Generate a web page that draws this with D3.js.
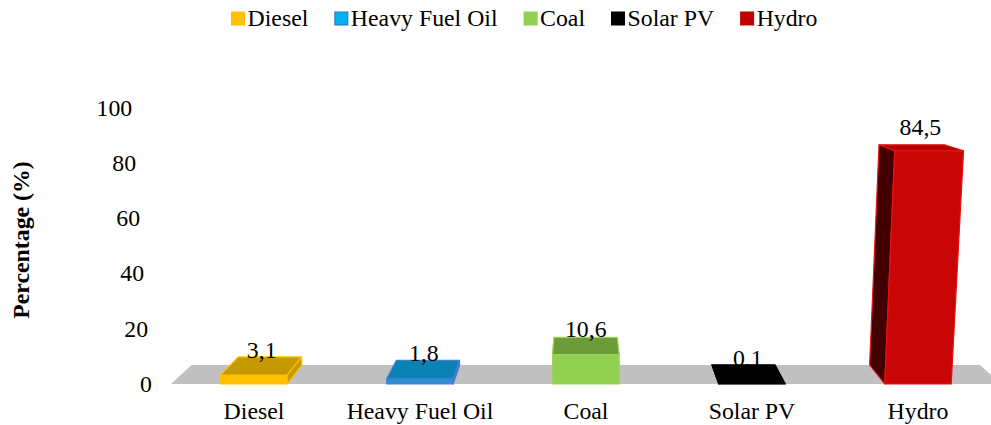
<!DOCTYPE html>
<html>
<head>
<meta charset="utf-8">
<script src="https://cdn.jsdelivr.net/npm/d3@7"></script>
<style>
  html, body { margin: 0; padding: 0; background: #fff; }
  svg text { font-family: "Liberation Serif", "Times New Roman", serif; }
</style>
</head>
<body>
<svg id="chart" width="991" height="425"></svg>
<script>
// Share of electricity generation by source
const categories = ["Diesel", "Heavy Fuel Oil", "Coal", "Solar PV", "Hydro"];
const values = [3.1, 1.8, 10.6, 0.1, 84.5];
const yTicks = [0, 20, 40, 60, 80, 100];

// face colours per source: front, top, side, outline, legend swatch
const frontColors = ["#FFC000", "#2F8CD8", "#92D050", "#000000", "#C80606"];
const topColors   = ["#C49A00", "#0A82B6", "#6E9B3A", "#000000", "#B40000"];
const sideColors  = ["#C49A00", "#0A7EB0", "#7FB545", "#000000", "#420000"];
const edgeColors  = ["#FFC000", "#4A7FD0", "#9BD35C", "#000000", "#E21414"];
const swatchColors = ["#FFC000", "#00B0F0", "#92D050", "#000000", "#C00000"];
const swatchEdges  = ["#FFC000", "#2E75B6", "#92D050", "#000000", "#C00000"];

const svg = d3.select("#chart");
const FONT = 23.8;
const SERIF = "'Liberation Serif', 'Times New Roman', serif";

const x = d3.scaleBand().domain(categories).range([171, 1001])
  .paddingInner(0.6).paddingOuter(0.3);
const y = d3.scaleLinear().domain([0, 100]).range([0, 276]);

const fmt = d3.formatLocale({ decimal: ",", thousands: ".", grouping: [3], currency: ["", ""] }).format(".1f");

// Perspective-ish projection: px = front-bottom screen x, v = value, z = depth (0 front .. 1 back)
const baseY = 384;
function project(px, v, z) {
  const h = y(v);
  const bx = px + (582 - px) * 0.05 * z;          // depth recedes toward the centre
  const sx = bx + (bx - 612) * 0.000156 * h;       // verticals fan out upward
  const sy = baseY - h - (19 - 0.0558 * h) * z;     // depth shrinks toward eye level
  return [sx, sy];
}
const poly = pts => pts.map(p => project(...p).join(",")).join(" ");

function label(sel) {
  return sel.append("text")
    .style("font-family", SERIF)
    .style("font-size", FONT + "px")
    .attr("fill", "#000");
}

// floor
const [fx0, fx1] = x.range();
svg.append("polygon")
  .attr("points", poly([[fx0, 0, 0], [fx1, 0, 0], [fx1, 0, 1], [fx0, 0, 1]]))
  .attr("fill", "#C0C0C0");

// bars
const bars = svg.append("g");
categories.forEach((c, i) => {
  const x0 = x(c), x1 = x(c) + x.bandwidth(), v = values[i];
  const g = bars.append("g")
    .attr("stroke", edgeColors[i]).attr("stroke-width", 1.2).attr("stroke-linejoin", "round");
  const mid = (x0 + x1) / 2;
  const backShiftsRight = project(mid, 0, 1)[0] > mid;
  const sx = backShiftsRight ? x1 : x0;
  g.append("polygon")
    .attr("points", poly([[sx, 0, 0], [sx, 0, 1], [sx, v, 1], [sx, v, 0]]))
    .attr("fill", sideColors[i]);
  g.append("polygon")
    .attr("points", poly([[x0, v, 0], [x1, v, 0], [x1, v, 1], [x0, v, 1]]))
    .attr("fill", topColors[i]);
  g.append("polygon")
    .attr("points", poly([[x0, 0, 0], [x1, 0, 0], [x1, v, 0], [x0, v, 0]]))
    .attr("fill", frontColors[i]);
});

// value labels
categories.forEach((c, i) => {
  const v = values[i];
  const [lx, ly] = project(x(c) + x.bandwidth() / 2, v, 0.5);
  label(svg)
    .attr("x", lx).attr("y", ly - 16 - 0.05 * v + 7.8)
    .attr("text-anchor", "middle")
    .text(fmt(v));
});

// value axis labels
const axisG = svg.append("g");
yTicks.forEach(t => {
  const [tx, ty] = project(152, t, 0);
  label(axisG)
    .attr("x", tx).attr("y", ty + 7.8)
    .attr("text-anchor", "end")
    .text(t);
});

// category labels
const catG = svg.append("g");
categories.forEach(c => {
  label(catG)
    .attr("x", x(c) + x.bandwidth() / 2).attr("y", 419)
    .attr("text-anchor", "middle")
    .text(c);
});

// axis title
label(svg)
  .attr("transform", "translate(29,240) rotate(-90)")
  .attr("text-anchor", "middle")
  .style("font-weight", "bold")
  .text("Percentage (%)");

// legend
const legend = svg.append("g");
const sw = 13, gapTxt = 3, gapItem = 26.5;
let cursor = 0;
categories.forEach((c, i) => {
  const item = legend.append("g");
  item.append("rect").attr("x", 0).attr("y", 12).attr("width", sw).attr("height", sw)
    .attr("fill", swatchColors[i]).attr("stroke", swatchEdges[i]).attr("stroke-width", 1);
  const t = label(item).attr("x", sw + gapTxt).attr("y", 26).text(c);
  const w = sw + gapTxt + t.node().getComputedTextLength();
  item.attr("transform", `translate(${cursor},0)`);
  cursor += w + gapItem;
});
const total = cursor - gapItem;
legend.attr("transform", `translate(${524.5 - total / 2},0)`);
</script>
</body>
</html>
